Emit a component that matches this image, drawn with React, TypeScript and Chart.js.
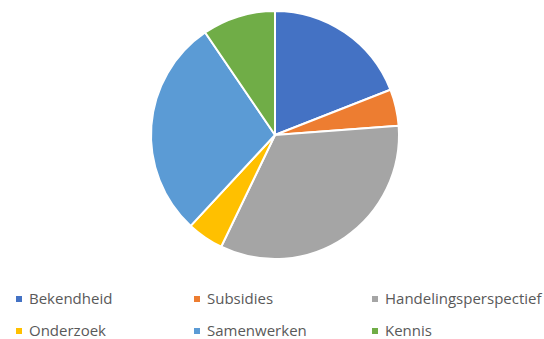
import React, { useEffect, useRef } from "react";
import { Chart, registerables } from "chart.js";

Chart.register(...registerables);

const categories = ["Bekendheid", "Subsidies", "Handelingsperspectief", "Onderzoek", "Samenwerken", "Kennis"];
const values = [4, 1, 7, 1, 6, 2];
const colors = ["#4472C4", "#ED7D31", "#A5A5A5", "#FFC000", "#5B9BD5", "#70AD47"];

const legendPos = [
  { x: 16, y: 298 },
  { x: 194, y: 298 },
  { x: 372, y: 298 },
  { x: 16, y: 330 },
  { x: 194, y: 330 },
  { x: 372, y: 330 },
];

export default function App() {
  const ref = useRef<HTMLCanvasElement | null>(null);
  useEffect(() => {
    if (!ref.current) return;
    const chart = new Chart(ref.current, {
      type: "pie",
      data: {
        labels: categories,
        datasets: [
          {
            data: values,
            backgroundColor: colors,
            borderColor: "#ffffff",
            borderWidth: 2,
          },
        ],
      },
      options: {
        responsive: false,
        animation: false,
        radius: 124,
        layout: { padding: { left: 6, right: 0, top: 0, bottom: 0 } },
        plugins: {
          legend: { display: false },
          tooltip: { enabled: false },
        },
      } as any,
    });
    return () => chart.destroy();
  }, []);

  return (
    <div style={{ position: "absolute", left: 0, top: 0, width: 544, height: 339, background: "#fff", overflow: "hidden" }}>
      <canvas ref={ref} width={544} height={270} style={{ position: "absolute", left: 0, top: 0, width: 544, height: 270 }} />
      {categories.map((c, i) => (
        <div
          key={c}
          style={{
            position: "absolute",
            left: legendPos[i].x,
            top: legendPos[i].y - 10,
            height: 20,
            display: "flex",
            alignItems: "center",
            fontFamily: "'Open Sans', sans-serif",
            fontSize: 15,
            color: "#595959",
            whiteSpace: "nowrap",
          }}
        >
          <span style={{ display: "inline-block", width: 6, height: 6, background: colors[i], marginRight: 7, marginTop: 1 }} />
          <span>{c}</span>
        </div>
      ))}
    </div>
  );
}
